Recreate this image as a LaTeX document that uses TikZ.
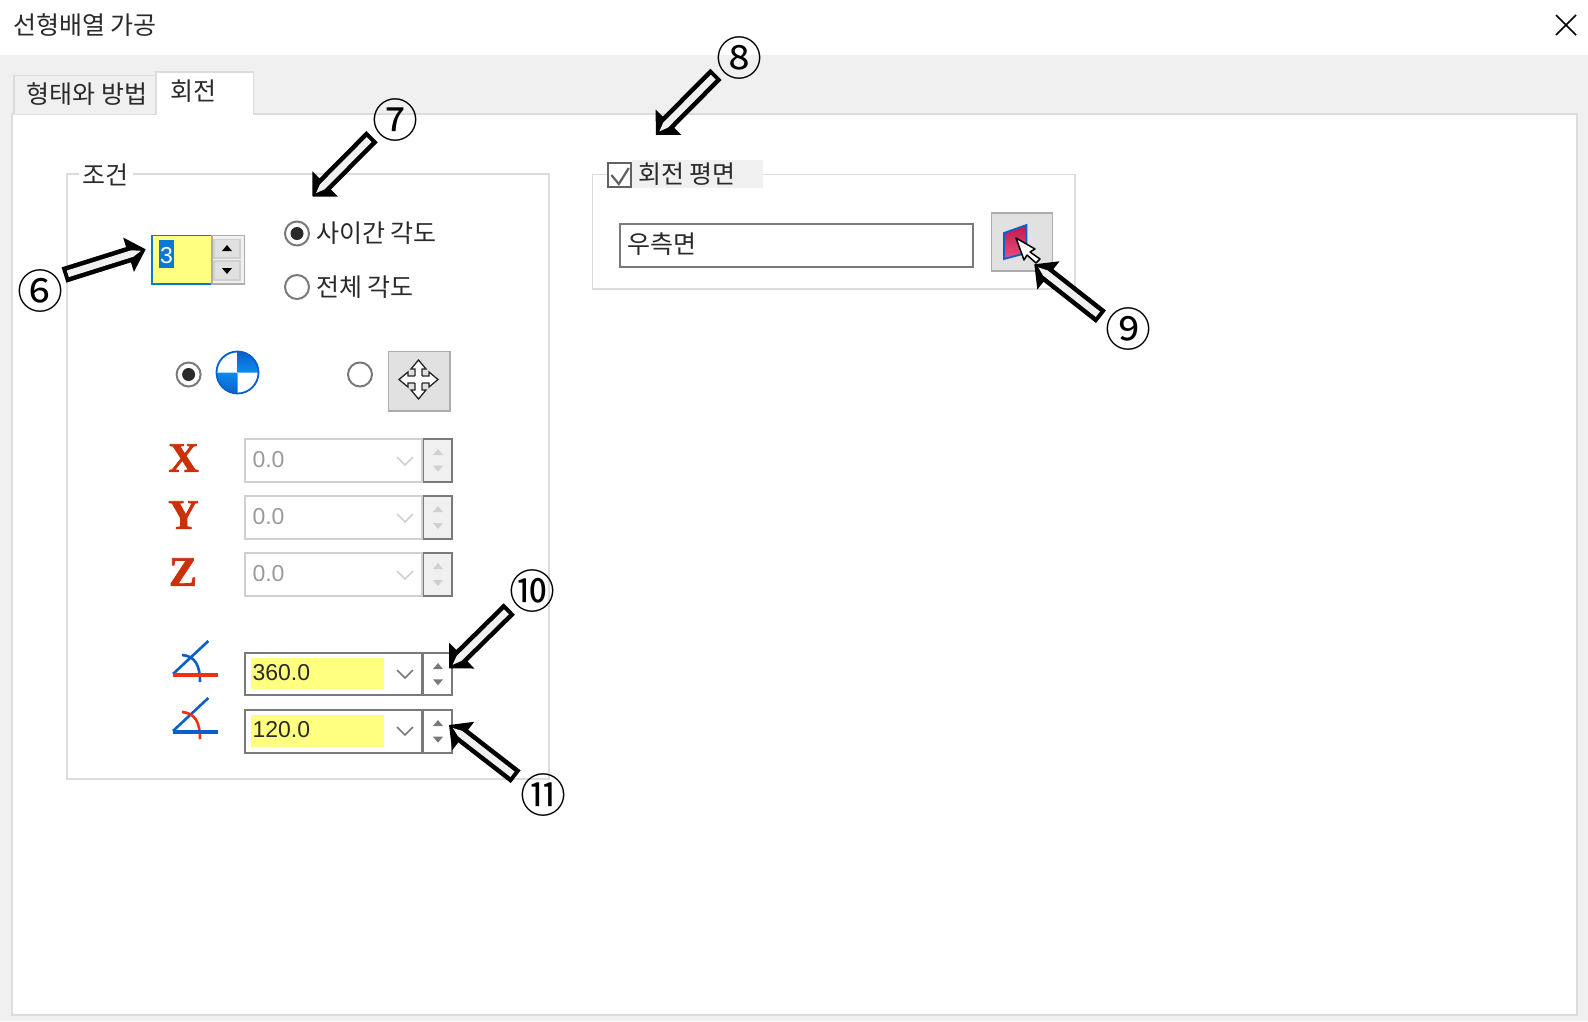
\documentclass[tikz,border=0pt]{standalone}
\usepackage{fontspec}
\setmainfont{Noto Sans CJK KR}
\newfontfamily\latinui{Liberation Sans}
\newfontfamily\bigserif[FakeBold=1.6]{Liberation Serif Bold}
\usetikzlibrary{calc,shapes.geometric}
\definecolor{band}{HTML}{F0F0F0}
\definecolor{rim}{HTML}{DCDCDC}
\definecolor{frameg}{HTML}{7A7A7A}
\definecolor{softg}{HTML}{D0D0D0}
\definecolor{btn}{HTML}{E1E1E1}
\definecolor{btnrim}{HTML}{ADADAD}
\definecolor{yel}{HTML}{FFFF80}
\definecolor{selblue}{HTML}{0A78D7}
\definecolor{iconblue}{HTML}{0A5FC8}
\definecolor{iconlite}{HTML}{0A8CF0}
\definecolor{iconred}{HTML}{F03010}
\definecolor{txt}{HTML}{2A2A2A}
\definecolor{dis}{HTML}{9A9A9A}
\definecolor{xyzred}{HTML}{CC3008}
\definecolor{facelite}{HTML}{E8507E}
\definecolor{facedark}{HTML}{C2184E}
\tikzset{
  x=1pt,y=-1pt,
  ui/.style={font=\fontsize{25}{25}\selectfont,text=txt,inner sep=0pt,outer sep=0pt},
  uilatin/.style={font=\latinui\fontsize{23}{23}\selectfont,inner sep=0pt,outer sep=0pt,anchor=west},
  badge/.style={font=\fontsize{46}{46}\selectfont,text=black,inner sep=0pt,outer sep=0pt},
  xyz/.style={font=\bigserif\fontsize{42}{42}\selectfont,text=xyzred,inner sep=0pt},
  grouprim/.style={draw=rim,line width=1.8pt},
  combo/.style={draw=frameg,line width=2pt,fill=white},
  combodis/.style={draw=softg,line width=2pt,fill=white},
  spinbox/.style={draw=frameg,line width=2pt},
  tri/.style={fill=#1,draw=none},
  chev/.style={draw=#1,line width=1.6pt},
  radio/.style={circle,draw=frameg,line width=2pt,fill=white,minimum size=24pt,inner sep=0pt},
  radiodot/.style={circle,fill=txt,minimum size=13pt,inner sep=0pt},
  flatbtn/.style={draw=btnrim,line width=1.8pt,fill=btn},
  angleicon/.style={line width=2.6pt},
  anglebase/.style={line width=3.2pt},
  arrowrim/.style={fill=black,draw=none},
  arrowcore/.style={fill=band,draw=none},
}
% hollow arrow from a tail coordinate to a tip coordinate
\newcommand{\hollowarrow}[2]{%
  \coordinate (neck) at ($(#2)!18pt!(#1)$);
  \coordinate (ineck) at ($(#2)!14pt!(#1)$);
  \coordinate (itail) at ($(#1)!4pt!(#2)$);
  \coordinate (itip) at ($(#2)!5pt!(#1)$);
  \fill[arrowrim] ($(#1)!8pt!90:(#2)$) -- ($(neck)!8pt!90:(#2)$) -- ($(neck)!18pt!90:(#2)$) -- (#2)
     -- ($(neck)!18pt!-90:(#2)$) -- ($(neck)!8pt!-90:(#2)$) -- ($(#1)!8pt!-90:(#2)$) -- cycle;
  \fill[arrowcore] ($(itail)!3.4pt!90:(#2)$) -- ($(ineck)!3.4pt!90:(#2)$) -- (itip)
     -- ($(ineck)!3.4pt!-90:(#2)$) -- ($(itail)!3.4pt!-90:(#2)$) -- cycle;
}
\newcommand{\spinpart}[4]{% top, bottom, fill, tri colour
  \draw[spinbox,fill=#3] (423,#1) rectangle (452.3,#2);
  \fill[tri=#4] (438,{#1+10}) -- (443,{#1+16}) -- (433,{#1+16}) -- cycle;
  \fill[tri=#4] (438,{#2-10}) -- (443,{#2-16}) -- (433,{#2-16}) -- cycle;
}
\begin{document}
\begin{tikzpicture}
\useasboundingbox (0,0) rectangle (1588,1021);
\fill[white] (0,0) rectangle (1588,1021);
\fill[band] (0,55) rectangle (1588,1021);
% close button and title
\draw[black,line width=1.6pt] (1556,15) -- (1576,35) (1576,15) -- (1556,35);
\node[ui,anchor=west] (title) at (13,25.5) {선형배열 가공};
% panel and tabs
\draw[grouprim,fill=white] (12,114) rectangle (1576.7,1014.7);
\draw[grouprim,fill=band] (14,114) -- (14,75.5) -- (156,75.5) -- (156,114);
\draw[grouprim,fill=white] (156,114) -- (156,72) -- (253.5,72) -- (253.5,114);
\fill[white] (157,110) rectangle (252.7,116);
\node[ui] (tab1) at (87,94.5) {형태와 방법};
\node[ui] (tab2) at (193,91.5) {회전};
% group 1
\draw[grouprim] (79,174) -- (67,174) -- (67,779) -- (549,779) -- (549,174) -- (133,174);
\node[ui] (g1) at (105.5,174.5) {조건};
% count spin box
\draw[selblue,line width=1.8pt,fill=yel] (152,235.5) rectangle (212,284);
\draw[btnrim,line width=1.8pt,fill=band] (212,235.5) rectangle (244.5,284);
\fill[selblue] (159,240) rectangle (174,268);
\node[font=\latinui\fontsize{23}{23}\selectfont,text=white,inner sep=0pt] (cnt) at (166.5,256) {3};
\draw[softg,line width=1.4pt,fill=btn] (214,239.5) rectangle (240,258);
\draw[softg,line width=1.4pt,fill=btn] (214,261) rectangle (240,280);
\fill[tri=black] (227,245) -- (232,251) -- (222,251) -- cycle;
\fill[tri=black] (227,274) -- (232,268) -- (222,268) -- cycle;
% radios
\node[radio] (r1) at (297,233.5) {};
\node[radiodot] at (r1) {};
\node[ui,anchor=west] (r1t) at (316,233.5) {사이간 각도};
\node[radio] (r2) at (297,287) {};
\node[ui,anchor=west] (r2t) at (316,287) {전체 각도};
\node[radio] (r3) at (188.6,374.5) {};
\node[radiodot] at (r3) {};
\node[radio] (r4) at (360,374.5) {};
% origin disc
\fill[white] (237.5,372.5) circle (21);
\shade[top color=iconblue,bottom color=iconlite] (237.5,372.5) -- (237.5,351.5) arc[start angle=-90,delta angle=90,radius=21] -- cycle;
\shade[top color=iconlite,bottom color=iconblue] (237.5,372.5) -- (237.5,393.5) arc[start angle=90,delta angle=90,radius=21] -- cycle;
\draw[iconblue,line width=1.8pt] (237.5,372.5) circle (21);
% move button
\draw[flatbtn] (388.5,351.5) rectangle (450,411);
\draw[black!85,fill=white,line width=1.3pt,line join=miter] (418.5,360)
  -- (426,369) -- (422,369) -- (422,376) -- (429,376) -- (429,372) -- (438,379.5)
  -- (429,387) -- (429,383) -- (422,383) -- (422,390) -- (426,390) -- (418.5,399)
  -- (411,390) -- (415,390) -- (415,383) -- (408,383) -- (408,387) -- (399,379.5)
  -- (408,372) -- (408,376) -- (415,376) -- (415,369) -- (411,369) -- cycle;
\fill[white] (415,376) rectangle (422,383);
% XYZ rows
\node[xyz] (lx) at (183.5,458) {X};
\node[xyz] (ly) at (183.5,515) {Y};
\node[xyz] (lz) at (183,572) {Z};
\spinpart{439}{481.7}{band}{softg}
\spinpart{496}{539}{band}{softg}
\spinpart{553}{596}{band}{softg}
\draw[combodis] (245,439) rectangle (421.7,481.7);
\node[uilatin,text=dis] (tx) at (252.5,459.5) {0.0};
\draw[chev=softg] (397,457) -- (405,465) -- (413,457);
\draw[combodis] (245,496) rectangle (421.7,539);
\node[uilatin,text=dis] (ty) at (252.5,516.5) {0.0};
\draw[chev=softg] (397,514) -- (405,522) -- (413,514);
\draw[combodis] (245,553) rectangle (421.7,596);
\node[uilatin,text=dis] (tz) at (252.5,573.5) {0.0};
\draw[chev=softg] (397,571) -- (405,579) -- (413,571);
% angle rows
\draw[combo] (245,653) rectangle (421.7,695.3);
\fill[yel] (250.7,657.7) rectangle (384,689.3);
\node[uilatin,text=txt] (a1) at (252.5,672.5) {360.0};
\draw[chev=frameg] (397,670) -- (405,678) -- (413,670);
\draw[combo] (245,710) rectangle (421.7,752.7);
\fill[yel] (250.7,715) rectangle (384,746.7);
\node[uilatin,text=txt] (a2) at (252.5,729.5) {120.0};
\draw[chev=frameg] (397,727) -- (405,735) -- (413,727);
\spinpart{653}{695.3}{white}{frameg}
\spinpart{710}{752.7}{white}{frameg}
% angle icons
\draw[angleicon,iconblue] (173,674) -- (208.3,641);
\draw[angleicon,iconblue] (182,655) .. controls (195,656) and (200,665) .. (200,682);
\draw[anglebase,iconred] (172.5,675) -- (218.3,675);
\draw[angleicon,iconblue] (173,731) -- (208.3,698);
\draw[angleicon,iconred] (182,712) .. controls (195,713) and (200,722) .. (200,739);
\draw[anglebase,iconblue] (172.5,732) -- (218.3,732);
% group 2
\draw[grouprim] (592.5,174.5) rectangle (1075,289);
\fill[band] (632,160) rectangle (763,188);
\draw[frameg!80!black,line width=2pt,fill=white] (608,163) rectangle (631,186.5);
\draw[frameg!80!black,line width=2.2pt] (611.4,175) -- (618.8,184) -- (628.8,168);
\node[ui,anchor=west] (g2) at (638,174.5) {회전 평면};
\draw[combo] (620,224) rectangle (972.5,266.5);
\node[ui,anchor=west] (plane) at (627,244) {우측면};
\draw[flatbtn] (991.5,213) rectangle (1052.5,271);
\shade[bottom color=facelite,top color=facedark,draw=iconblue,line width=1.8pt]
  (1004,233) -- (1026.5,225) -- (1026.5,253) -- (1004,259) -- cycle;
\draw[black,fill=white,line width=1.5pt,line join=round] (1016,238) -- (1035,249) -- (1030,252)
  -- (1040,259) -- (1036,263) -- (1027,255) -- (1024,260) -- cycle;
% badges
\node[badge] (b6) at (40,291) {⑥};
\node[badge] (b7) at (395.6,120) {⑦};
\node[badge] (b8) at (739,57.7) {⑧};
\node[badge] (b9) at (1128.5,329) {⑨};
\node[badge] (b10) at (532.7,591.5) {⑩};
\node[badge] (b11) at (543,795) {⑪};
% arrow ends
\coordinate (tail6) at (64,275);    \coordinate (tip6) at (145.7,249.3);
\coordinate (tail7) at (372,136.7); \coordinate (tip7) at (312.5,196.7);
\coordinate (tail8) at (716,74.3);  \coordinate (tip8) at (655.8,135);
\coordinate (tail9) at (1101,316.7);\coordinate (tip9) at (1034.3,264.3);
\coordinate (tail10) at (509.3,609);\coordinate (tip10) at (449,668.3);
\coordinate (tail11) at (515.7,776.7);\coordinate (tip11) at (449,725);
\hollowarrow{tail6}{tip6}
\hollowarrow{tail7}{tip7}
\hollowarrow{tail8}{tip8}
\hollowarrow{tail9}{tip9}
\hollowarrow{tail10}{tip10}
\hollowarrow{tail11}{tip11}
\end{tikzpicture}
\end{document}
